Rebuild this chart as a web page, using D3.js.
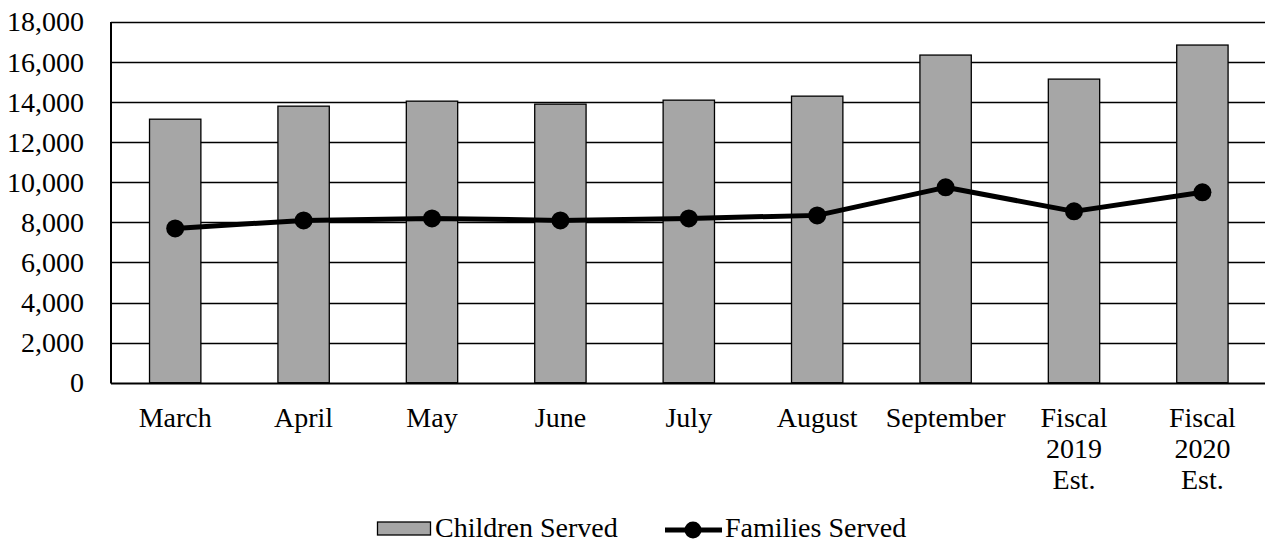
<!DOCTYPE html>
<html>
<head>
<meta charset="utf-8">
<script src="https://cdn.jsdelivr.net/npm/d3@7"></script>
<style>
  html, body { margin: 0; padding: 0; background: #fff; }
  svg { display: block; }
  svg text { font-family: "Liberation Serif", "Times New Roman", serif !important; fill: #000; }
</style>
</head>
<body>
<svg id="chart" width="1265" height="541"></svg>
<script>
const categories = ["March", "April", "May", "June", "July", "August", "September", "Fiscal\n2019\nEst.", "Fiscal\n2020\nEst."];
const childrenServed = [13150, 13800, 14050, 13900, 14100, 14300, 16350, 15150, 16850];
const familiesServed = [7700, 8100, 8200, 8100, 8200, 8350, 9750, 8550, 9500];
const yTicks = [0, 2000, 4000, 6000, 8000, 10000, 12000, 14000, 16000, 18000];
const seriesNames = ["Children Served", "Families Served"];

const svg = d3.select("#chart");
const fontSize = 28;
const serif = '"Liberation Serif", "Times New Roman", serif';

const x = d3.scaleBand().domain(categories).range([111, 1266.6]).paddingInner(0.6).paddingOuter(0.3);
const y = d3.scaleLinear().domain([0, 18000]).range([382.7, 22]);

// gridlines
svg.append("g").selectAll("line").data(yTicks).join("line")
  .attr("x1", 111).attr("x2", 1265)
  .attr("y1", d => Math.round(y(d)) + 0.5).attr("y2", d => Math.round(y(d)) + 0.5)
  .attr("stroke", "#000").attr("stroke-width", d => d === 0 ? 2 : 1.3);

// y axis labels
const yAxis = d3.axisLeft(y).tickValues(yTicks).tickFormat(d3.format(",")).tickSize(0).tickPadding(27);
const gy = svg.append("g").attr("transform", "translate(111,0)").call(yAxis)
  .attr("font-family", serif).attr("font-size", fontSize);
gy.select(".domain").remove();
gy.selectAll("text").style("font-family", serif).style("font-size", fontSize + "px").attr("fill", "#000");

// left axis line
svg.append("line").attr("x1", 111).attr("x2", 111).attr("y1", 22).attr("y2", 383.5)
  .attr("stroke", "#000").attr("stroke-width", 2);

// bars
svg.append("g").selectAll("rect").data(categories).join("rect")
  .attr("x", d => x(d))
  .attr("width", x.bandwidth())
  .attr("y", (d, i) => y(childrenServed[i]))
  .attr("height", (d, i) => y(0) - y(childrenServed[i]))
  .attr("fill", "#a6a6a6").attr("stroke", "#000").attr("stroke-width", 1.3);

// line
const line = d3.line().x((d, i) => x(categories[i]) + x.bandwidth() / 2).y(d => y(d));
svg.append("path").datum(familiesServed).attr("d", line)
  .attr("fill", "none").attr("stroke", "#000").attr("stroke-width", 5).attr("stroke-linejoin", "round");
svg.append("g").selectAll("circle").data(familiesServed).join("circle")
  .attr("cx", (d, i) => x(categories[i]) + x.bandwidth() / 2)
  .attr("cy", d => y(d)).attr("r", 9).attr("fill", "#000");

// x labels
const xl = svg.append("g").selectAll("text").data(categories).join("text")
  .attr("text-anchor", "middle").style("font-size", fontSize + "px")
  .attr("x", d => x(d) + x.bandwidth() / 2).attr("y", 427);
xl.each(function(d) {
  const t = d3.select(this);
  d.split("\n").forEach((s, j) => {
    t.append("tspan").attr("x", x(d) + x.bandwidth() / 2).attr("dy", j === 0 ? 0 : 31).text(s);
  });
});

// legend
const lg = svg.append("g");
lg.append("rect").attr("x", 377.5).attr("y", 522).attr("width", 53).attr("height", 13)
  .attr("fill", "#a6a6a6").attr("stroke", "#000").attr("stroke-width", 1.3);
lg.append("text").attr("x", 435).attr("y", 536.5).style("font-size", fontSize + "px").text(seriesNames[0]);
lg.append("line").attr("x1", 665).attr("x2", 722).attr("y1", 530).attr("y2", 530)
  .attr("stroke", "#000").attr("stroke-width", 5);
lg.append("circle").attr("cx", 693).attr("cy", 530).attr("r", 8.5).attr("fill", "#000");
lg.append("text").attr("x", 725).attr("y", 536.5).style("font-size", fontSize + "px").text(seriesNames[1]);
</script>
</body>
</html>
